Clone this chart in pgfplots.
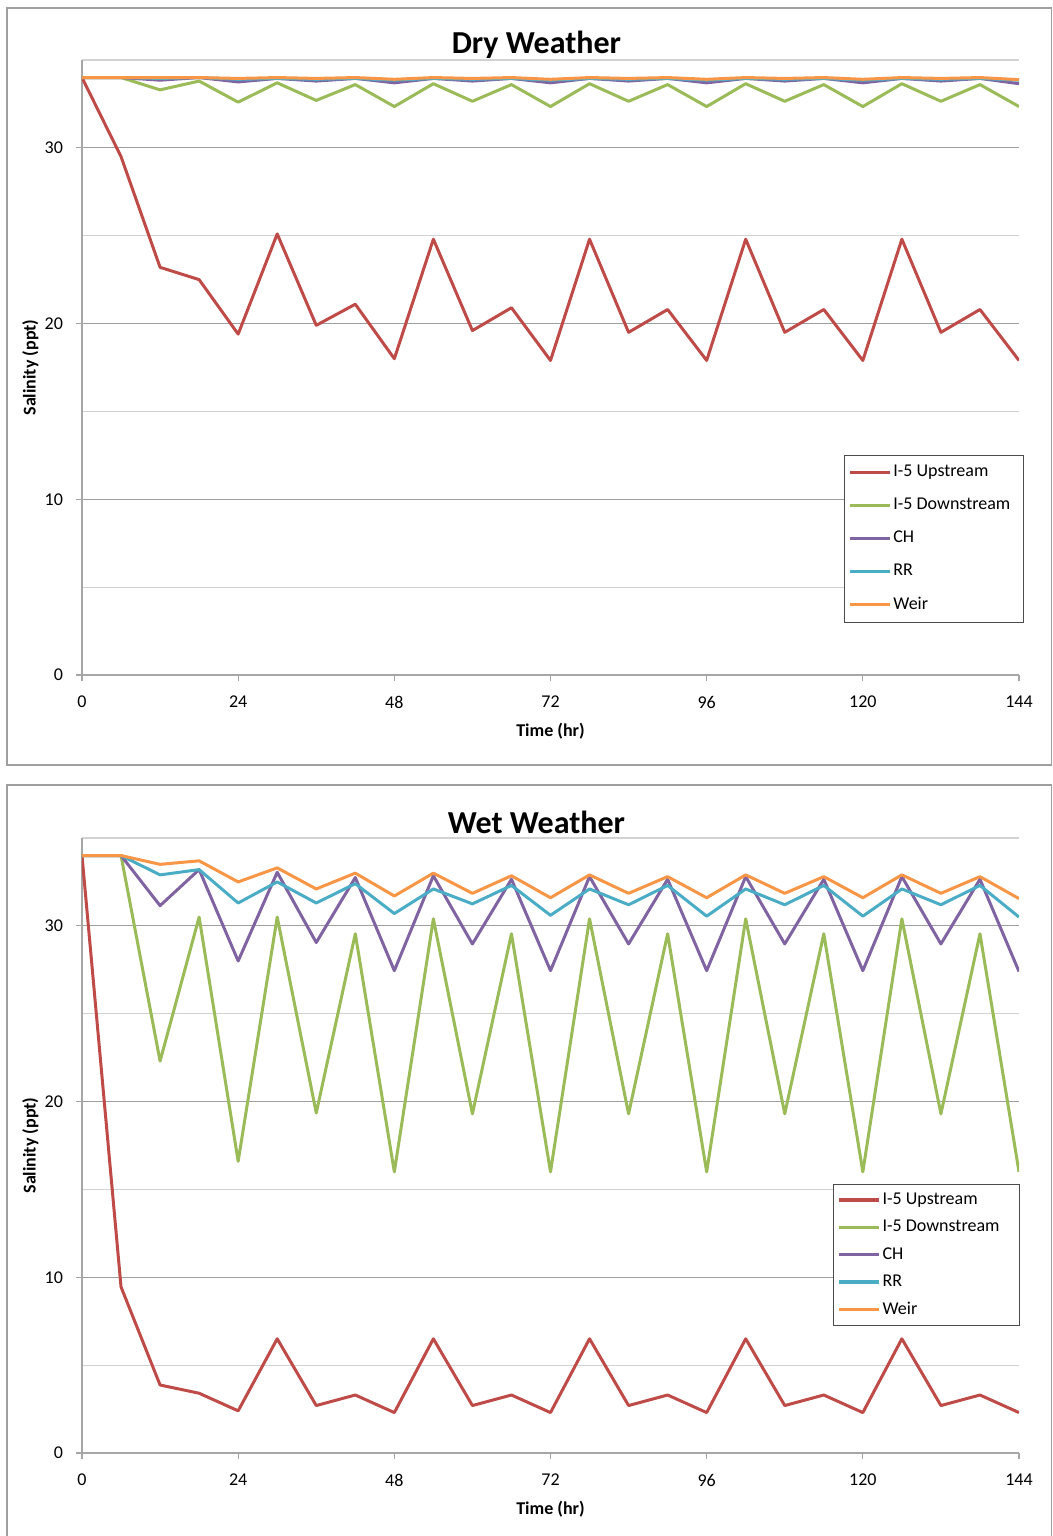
\documentclass[border=0pt]{standalone}
\usepackage{pgfplots}
\usepackage{pgfplotstable}
\pgfplotsset{compat=1.18}
\usepackage{fontspec}
\setmainfont{Carlito}
\definecolor{cUp}{HTML}{BE4B48}
\definecolor{cDn}{HTML}{9BBB59}
\definecolor{cCH}{HTML}{8064A2}
\definecolor{cRR}{HTML}{4BACC6}
\definecolor{cWe}{HTML}{F79646}
\pgfplotstableread{
x up down ch rr weir
0 34 34 34 34 34
6 29.5 34 34 34 34
12 23.2 33.3 33.85 33.95 34
18 22.5 33.8 34 34 34
24 19.4 32.6 33.75 33.9 33.95
30 25.1 33.7 33.95 33.95 34
36 19.9 32.7 33.8 33.9 33.95
42 21.1 33.6 33.95 33.95 34
48 18.0 32.35 33.7 33.85 33.9
54 24.8 33.65 33.95 33.95 34
60 19.6 32.65 33.8 33.9 33.95
66 20.9 33.6 33.95 33.95 34
72 17.9 32.35 33.7 33.85 33.9
78 24.8 33.65 33.95 33.95 34
84 19.5 32.65 33.8 33.9 33.95
90 20.8 33.6 33.95 33.95 34
96 17.9 32.35 33.7 33.85 33.9
102 24.8 33.65 33.95 33.95 34
108 19.5 32.65 33.8 33.9 33.95
114 20.8 33.6 33.95 33.95 34
120 17.9 32.35 33.7 33.85 33.9
126 24.8 33.65 33.95 33.95 34
132 19.5 32.65 33.8 33.9 33.95
138 20.8 33.6 33.95 33.95 34
144 17.9 32.35 33.65 33.85 33.88
}\dry
\pgfplotstableread{
x up down ch rr weir
0 34 34 34 34 34
6 9.45 34 34 34 34
12 3.87 22.3 31.15 32.9 33.5
18 3.4 30.5 33.2 33.2 33.7
24 2.4 16.6 28.0 31.3 32.5
30 6.5 30.5 33.05 32.5 33.3
36 2.7 19.35 29.05 31.3 32.1
42 3.3 29.55 32.75 32.4 33.0
48 2.3 16.0 27.45 30.7 31.7
54 6.5 30.4 32.85 32.1 33.0
60 2.7 19.3 28.97 31.25 31.85
66 3.3 29.55 32.65 32.3 32.85
72 2.3 16.0 27.45 30.6 31.6
78 6.5 30.4 32.8 32.1 32.9
84 2.7 19.3 28.97 31.2 31.85
90 3.3 29.55 32.65 32.3 32.8
96 2.3 16.0 27.45 30.55 31.6
102 6.5 30.4 32.8 32.1 32.9
108 2.7 19.3 28.97 31.2 31.85
114 3.3 29.55 32.65 32.3 32.8
120 2.3 16.0 27.45 30.55 31.6
126 6.5 30.4 32.8 32.1 32.9
132 2.7 19.3 28.97 31.2 31.85
138 3.3 29.55 32.65 32.3 32.8
144 2.3 16.0 27.4 30.5 31.55
}\wet
\pgfplotsset{
  salstyle/.style={
    scale only axis,
    width=468.5pt, height=307.5pt,
    xmin=0, xmax=144, ymin=0, ymax=35,
    axis x line=bottom, axis y line=left,
    axis line style={gray!70, line width=0.6pt, -},
    xtick={0,24,...,144},
    ytick={0,10,20,30},
    minor ytick={5,15,25,35},
    ymajorgrids, yminorgrids,
    major grid style={gray!75, line width=0.6pt},
    minor grid style={gray!35, line width=0.6pt},
    tick style={gray!70, line width=0.6pt},
    major tick length=3pt,
    minor tick length=0pt,
    xtick align=outside, ytick align=outside,
    /pgf/number format/assume math mode=true,
    tick label style={font=\fontsize{9}{11}\selectfont},
    xticklabel style={yshift=-4pt},
    yticklabel style={xshift=-3pt},
    xlabel={\bfseries Time (hr)},
    ylabel={\bfseries Salinity (ppt)},
    label style={font=\fontsize{9}{11}\selectfont\bfseries},
    xlabel style={at={(axis description cs:0.5,-0.091)}, anchor=center},
    ylabel style={at={(axis description cs:-0.055,0.5)}, anchor=center, rotate=0},
    title style={font=\fontsize{16}{19}\selectfont\bfseries, at={(axis description cs:0.485,1.006)}, anchor=center},
    legend cell align=left,
    legend image code/.code={\draw[#1, line width=1.6pt] (0pt,0pt) -- (20pt,0pt);},
    every axis plot/.append style={line width=1.5pt, line join=round},
  }
}
\begin{document}
\begin{tikzpicture}
\useasboundingbox (0,0) rectangle (526.5pt,768pt);
\draw[gray!75, line width=0.8pt] (3.5pt,385.5pt) rectangle (525.8pt,764pt);
\draw[gray!75, line width=0.8pt] (3.5pt,-5pt) rectangle (525.8pt,375.5pt);
\begin{axis}[salstyle, at={(41pt,430.5pt)}, anchor=south west,
  title={Dry Weather},
  legend style={at={(axis description cs:0.813,0.358)}, anchor=north west,
    draw=black!70, fill=white, font=\fontsize{9}{11}\selectfont,
    inner xsep=2pt, inner ysep=3pt, row sep=5.2pt,
    nodes={inner xsep=1pt}}]
\addplot[cUp] table[x=x,y=up] {\dry};
\addplot[cDn] table[x=x,y=down] {\dry};
\addplot[cCH] table[x=x,y=ch] {\dry};
\addplot[cRR] table[x=x,y=rr] {\dry};
\addplot[cWe] table[x=x,y=weir] {\dry};
\legend{I-5 Upstream,I-5 Downstream\kern3.5pt,CH,RR,Weir}
\end{axis}
\begin{axis}[salstyle, at={(41pt,41.5pt)}, anchor=south west,
  title={Wet Weather},
  legend style={at={(axis description cs:0.8015,0.437)}, anchor=north west,
    draw=black!70, fill=white, font=\fontsize{9}{11}\selectfont,
    inner xsep=2pt, inner ysep=2pt, row sep=2.4pt,
    nodes={inner xsep=1pt}}]
\addplot[cUp] table[x=x,y=up] {\wet};
\addplot[cDn] table[x=x,y=down] {\wet};
\addplot[cCH] table[x=x,y=ch] {\wet};
\addplot[cRR] table[x=x,y=rr] {\wet};
\addplot[cWe] table[x=x,y=weir] {\wet};
\legend{I-5 Upstream,I-5 Downstream\kern7pt,CH,RR,Weir}
\end{axis}
\end{tikzpicture}
\end{document}
